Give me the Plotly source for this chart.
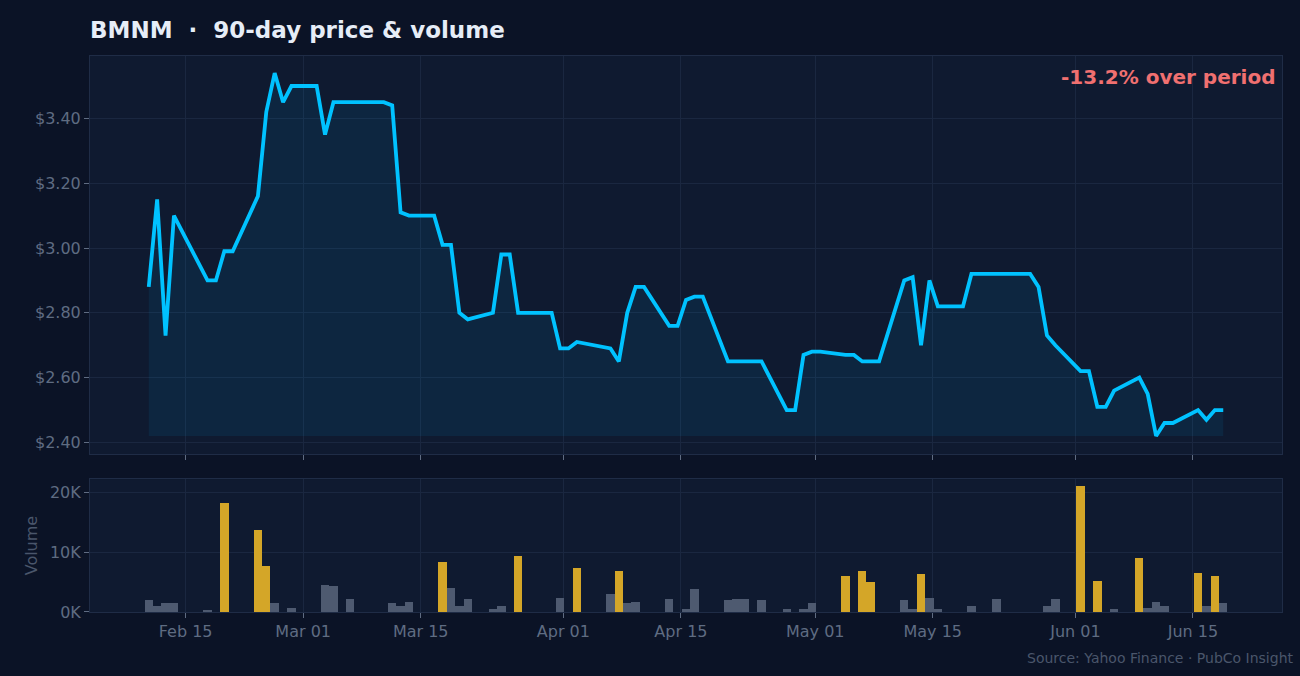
import pandas as pd
import plotly.graph_objects as go

TICKER = "BMNM"
SESSION_TIME = "14:30"

feb_days = ["2026-02-10", "2026-02-11", "2026-02-12", "2026-02-13", "2026-02-17", "2026-02-18",
            "2026-02-19", "2026-02-20", "2026-02-23", "2026-02-24", "2026-02-25", "2026-02-26",
            "2026-02-27"]
mar_days = ["2026-03-02", "2026-03-03", "2026-03-04", "2026-03-05", "2026-03-06", "2026-03-09",
            "2026-03-10", "2026-03-11", "2026-03-12", "2026-03-13", "2026-03-16", "2026-03-17",
            "2026-03-18", "2026-03-19", "2026-03-20", "2026-03-23", "2026-03-24", "2026-03-25",
            "2026-03-26", "2026-03-27", "2026-03-30", "2026-03-31"]
apr_days = ["2026-04-01", "2026-04-02", "2026-04-06", "2026-04-07", "2026-04-08", "2026-04-09",
            "2026-04-10", "2026-04-13", "2026-04-14", "2026-04-15", "2026-04-16", "2026-04-17",
            "2026-04-20", "2026-04-21", "2026-04-22", "2026-04-23", "2026-04-24", "2026-04-27",
            "2026-04-28", "2026-04-29", "2026-04-30"]
may_days = ["2026-05-01", "2026-05-04", "2026-05-05", "2026-05-06", "2026-05-07", "2026-05-08",
            "2026-05-11", "2026-05-12", "2026-05-13", "2026-05-14", "2026-05-15", "2026-05-18",
            "2026-05-19", "2026-05-20", "2026-05-21", "2026-05-22", "2026-05-26", "2026-05-27",
            "2026-05-28", "2026-05-29"]
jun_days = ["2026-06-01", "2026-06-02", "2026-06-03", "2026-06-04", "2026-06-05", "2026-06-08",
            "2026-06-09", "2026-06-10", "2026-06-11", "2026-06-12", "2026-06-15", "2026-06-16",
            "2026-06-17", "2026-06-18"]

feb_close = [2.88, 3.15, 2.73, 3.10, 2.90, 2.90, 2.99, 2.99, 3.16, 3.42, 3.54, 3.45, 3.50]
mar_close = [3.50, 3.35, 3.45, 3.45, 3.45, 3.45, 3.45, 3.44, 3.11, 3.10, 3.10, 3.01, 3.01,
             2.80, 2.78, 2.80, 2.98, 2.98, 2.80, 2.80, 2.80, 2.69]
apr_close = [2.69, 2.71, 2.69, 2.65, 2.80, 2.88, 2.88, 2.76, 2.76, 2.84, 2.85, 2.85, 2.65,
             2.65, 2.65, 2.65, 2.65, 2.50, 2.50, 2.67, 2.68]
may_close = [2.68, 2.67, 2.67, 2.65, 2.65, 2.65, 2.90, 2.91, 2.70, 2.90, 2.82, 2.82, 2.92,
             2.92, 2.92, 2.92, 2.92, 2.88, 2.73, 2.70]
jun_close = [2.62, 2.62, 2.51, 2.51, 2.56, 2.60, 2.55, 2.42, 2.46, 2.46, 2.50, 2.47, 2.50, 2.50]

feb_vol = [1900, 1050, 1550, 1550, 200, 0, 18200, 0, 13700, 7700, 1550, 0, 700]
mar_vol = [0, 4550, 4400, 0, 2200, 0, 0, 1550, 900, 1700, 0, 8400, 4000, 1050, 2200, 400,
           900, 0, 9400, 0, 0, 2350]
apr_vol = [0, 7400, 3050, 6900, 1400, 1700, 0, 2200, 0, 400, 3900, 0, 2050, 2200, 2200, 0,
           2050, 400, 0, 400, 1550]
may_vol = [0, 6050, 0, 6900, 5050, 0, 1900, 550, 6400, 2350, 400, 0, 900, 0, 0, 2200, 0, 0,
           1050, 2200]
jun_vol = [21050, 0, 5200, 0, 550, 9050, 700, 1700, 1050, 0, 6550, 900, 6050, 1550]

tick_dates = ["2026-02-15", "2026-03-01", "2026-03-15", "2026-04-01", "2026-04-15",
              "2026-05-01", "2026-05-15", "2026-06-01", "2026-06-15"]
tick_labels = ["Feb 15", "Mar 01", "Mar 15", "Apr 01", "Apr 15", "May 01", "May 15",
               "Jun 01", "Jun 15"]
vol_tickvals = [0, 10000, 20000]
vol_ticktext = ["0K", "10K", "20K"]

days = feb_days + mar_days + apr_days + may_days + jun_days
closes = feb_close + mar_close + apr_close + may_close + jun_close
volumes = feb_vol + mar_vol + apr_vol + may_vol + jun_vol

x = pd.to_datetime([d + " " + SESSION_TIME for d in days])
n = len(x)

# styles
PAPER = "#0b1326"
PLOT = "#0f1a30"
GRID = "#1a2740"
FRAME = "#1f2c46"
TICK_COL = "#5f6c82"
LINE = "#00c2ff"
GOLD = "#d4a628"
GREY = "#4e5a70"
FONT = "DejaVu Sans"
TICK_SIZE = 16

mean_vol = sum(volumes) / n
bar_colors = [GOLD if v > 2 * mean_vol else GREY for v in volumes]

lo, hi = min(closes), max(closes)
span = hi - lo
pct = (closes[-1] / closes[0] - 1) * 100

xr = [x[0] - pd.Timedelta(days=7), x[-1] + pd.Timedelta(days=7)]

fig = go.Figure()
fig.add_trace(go.Scatter(x=x, y=[lo] * n, mode="lines", line=dict(width=0, color=LINE),
                         showlegend=False, hoverinfo="skip", xaxis="x", yaxis="y"))
fig.add_trace(go.Scatter(x=x, y=closes, mode="lines", line=dict(color=LINE, width=3.8),
                         fill="tonexty", fillcolor="rgba(0,194,255,0.08)",
                         showlegend=False, xaxis="x", yaxis="y", name="Close"))
fig.add_trace(go.Bar(x=x, y=volumes, marker=dict(color=bar_colors, line=dict(width=0)),
                     showlegend=False, xaxis="x2", yaxis="y2", name="Volume"))

axis_common = dict(
    type="date", range=xr, tickvals=pd.to_datetime(tick_dates), ticktext=tick_labels,
    ticks="outside", ticklen=5, tickcolor=TICK_COL, tickwidth=1,
    showgrid=True, gridcolor=GRID, gridwidth=1,
    showline=True, mirror=True, linecolor=FRAME, linewidth=1, zeroline=False,
    tickfont=dict(family=FONT, size=TICK_SIZE, color=TICK_COL),
)

fig.update_layout(
    width=1300, height=676,
    paper_bgcolor=PAPER, plot_bgcolor=PLOT,
    margin=dict(l=90, r=18, t=56, b=64),
    font=dict(family=FONT, color=TICK_COL),
    bargap=0,
    showlegend=False,
    title=dict(text=f"{TICKER}  ·  90-day price & volume", x=90 / 1300, xanchor="left",
               y=1 - 30 / 676, yanchor="middle",
               font=dict(family=FONT, size=23, color="#e6edf7", weight="bold")),
    xaxis=dict(domain=[0, 1], anchor="y", showticklabels=False, **axis_common),
    xaxis2=dict(domain=[0, 1], anchor="y2", showticklabels=True, layer="above traces",
                **axis_common),
    yaxis=dict(domain=[0.284, 1], anchor="x", range=[lo - 0.05 * span, hi + 0.047 * span],
               dtick=0.2, tick0=2.4, tickprefix="$", tickformat=".2f",
               ticks="outside", ticklen=5, tickcolor=TICK_COL,
               showgrid=True, gridcolor=GRID, showline=True, mirror=True, linecolor=FRAME,
               zeroline=False, tickfont=dict(family=FONT, size=TICK_SIZE, color=TICK_COL)),
    yaxis2=dict(domain=[0, 0.239], anchor="x2", range=[0, max(volumes) * 1.053],
                tickvals=vol_tickvals, ticktext=vol_ticktext,
                ticks="outside", ticklen=5, tickcolor=TICK_COL, layer="above traces",
                showgrid=True, gridcolor=GRID, showline=True, mirror=True, linecolor=FRAME,
                zeroline=False, tickfont=dict(family=FONT, size=TICK_SIZE, color=TICK_COL),
                title=dict(text="Volume", font=dict(family=FONT, size=16, color="#4a566b"),
                           standoff=8)),
    annotations=[
        dict(text=f"{pct:+.1f}% over period", xref="paper", yref="paper",
             x=(1277 - 90) / 1192, y=(612.3 - 77) / 556.3, xanchor="right", yanchor="middle",
             showarrow=False, font=dict(family=FONT, size=20, color="#f07070", weight="bold")),
        dict(text="Source: Yahoo Finance · PubCo Insight", xref="paper", yref="paper",
             x=(1296 - 90) / 1192, y=(612.3 - 658) / 556.3, xanchor="right", yanchor="middle",
             showarrow=False, font=dict(family=FONT, size=14, color="#4a566b")),
    ],
)

fig.write_html("out.html")
